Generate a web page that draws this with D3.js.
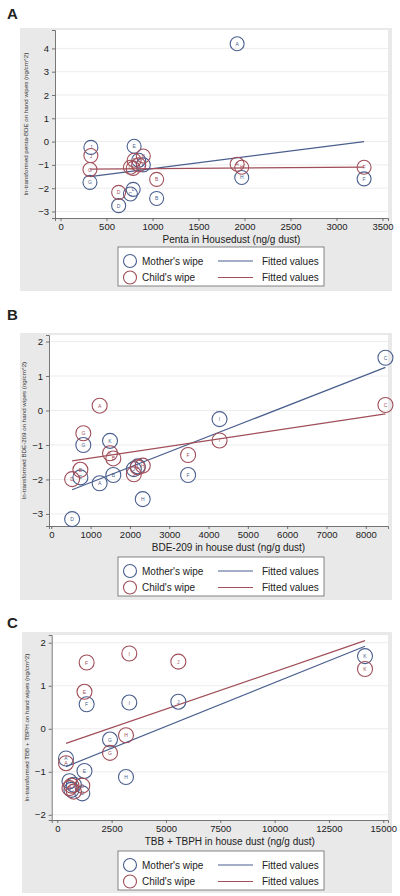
<!DOCTYPE html>
<html><head><meta charset="utf-8">
<script src="https://cdn.jsdelivr.net/npm/d3@7"></script>
<style>body{margin:0;background:#fff;}svg{display:block;font-family:"Liberation Sans",Arial,sans-serif;}</style>
</head><body><svg id="c" width="400" height="896"></svg>
<script>
// ---------- DATA ----------
const letters = ["A","B","C","D","E","F","G","H","I","J","K","L"];

// Panel A: penta-BDE
const dustA     = [1920,1045,760,632,800,3300,320,1970,850,330,900,790];
const motherA   = [4.2,-2.44,-2.25,-2.75,-0.2,-1.6,-1.75,-1.54,-0.8,-0.25,-1.0,-2.05];
const childA    = [-0.97,-1.62,-1.1,-2.18,-0.8,-1.1,-1.2,-1.1,-1.0,-0.6,-0.62,-1.15];
const fitMotherA = [[320,-1.5],[3300,0.0]];
const fitChildA  = [[320,-1.18],[3300,-1.1]];
const xTicksA = [0,500,1000,1500,2000,2500,3000,3500];
const yTicksA = [-3,-2,-1,0,1,2,3,4];

// Panel B: BDE-209
const dustB     = [1230,1578,8500,530,740,3480,815,2326,4280,2100,1494,2200];
const motherB   = [-2.11,-1.87,1.53,-3.15,-1.94,-1.87,-1.0,-2.57,-0.25,-1.7,-0.88,-1.62];
const childB    = [0.14,-1.39,0.16,-1.99,-1.72,-1.29,-0.66,-1.6,-0.87,-1.85,-1.24,-1.65];
const fitMotherB = [[530,-2.3],[8500,1.25]];
const fitChildB  = [[530,-1.46],[8500,-0.1]];
const xTicksB = [0,1000,2000,3000,4000,5000,6000,7000,8000];
const yTicksB = [-3,-2,-1,0,1,2];

// Panel C: TBB + TBPH
const dustC     = [400,560,650,1150,1250,1350,2425,3160,3313,5570,14160,760];
const motherC   = [-0.69,-1.22,-1.42,-1.5,-0.98,0.57,-0.25,-1.12,0.61,0.63,1.69,-1.3];
const childC    = [-0.8,-1.38,-1.32,-1.32,0.86,1.54,-0.56,-0.15,1.75,1.56,1.39,-1.46];
const fitMotherC = [[400,-0.88],[14160,1.92]];
const fitChildC  = [[400,-0.34],[14160,2.05]];
const xTicksC = [0,2500,5000,7500,10000,12500,15000];
const yTicksC = [-2,-1,0,1,2];

const legendLabels = ["Mother's wipe","Child's wipe","Fitted values"];

// ---------- STYLE ----------
const BLUE = "#4a5f8e", RED = "#a04e59";
const svg = d3.select("#c");

function panel(o){
  const g = svg.append("g");
  g.append("rect").attr("x",o.gx).attr("y",o.gy).attr("width",o.gw).attr("height",o.gh).attr("fill","#e9e9e9");
  g.append("rect").attr("x",o.px0).attr("y",o.py0).attr("width",o.px1-o.px0).attr("height",o.py1-o.py0).attr("fill","#fff");
  g.append("text").attr("x",7).attr("y",o.labelY).attr("font-size",15).attr("font-weight","bold").attr("fill","#222").text(o.label);

  const x = d3.scaleLinear().domain(o.xd).range([o.px0,o.px1]);
  const y = d3.scaleLinear().domain(o.yd).range([o.py1,o.py0]);

  g.append("g").selectAll("line").data(o.yt).join("line")
    .attr("x1",o.px0).attr("x2",o.px1).attr("y1",d=>y(d)).attr("y2",d=>y(d))
    .attr("stroke","#ececec").attr("stroke-width",1);

  const ax = g.append("g").attr("transform",`translate(0,${o.py1})`)
    .call(d3.axisBottom(x).tickValues(o.xt).tickSize(3).tickPadding(2).tickFormat(d3.format("d")));
  const ay = g.append("g").attr("transform",`translate(${o.px0},0)`)
    .call(d3.axisLeft(y).tickValues(o.yt).tickSize(3).tickPadding(3).tickFormat(d3.format("d")));
  [ax,ay].forEach(a=>{
    a.select(".domain").attr("stroke","#555").attr("stroke-width",0.8);
    a.selectAll(".tick line").attr("stroke","#555").attr("stroke-width",0.8);
    a.selectAll(".tick text").attr("font-size",9.5).attr("fill","#222").attr("font-family","Liberation Sans, Arial, sans-serif");
  });

  g.append("text").attr("x",(o.px0+o.px1)/2+10).attr("y",o.xtY).attr("text-anchor","middle")
    .attr("font-size",10).attr("fill","#222").text(o.xtitle);
  g.append("text").attr("transform",`translate(${o.ytX},${(o.py0+o.py1)/2}) rotate(-90)`)
    .attr("text-anchor","middle").attr("font-size",6.2).attr("fill","#333").text(o.ytitle);

  const line = d3.line().x(d=>x(d[0])).y(d=>y(d[1]));
  g.append("path").attr("d",line(o.fitM)).attr("stroke",BLUE).attr("stroke-width",1.2).attr("fill","none");
  g.append("path").attr("d",line(o.fitC)).attr("stroke",RED).attr("stroke-width",1.2).attr("fill","none");

  function pts(vals,col){
    const pg = g.append("g");
    const dat = letters.map((l,i)=>({l,x:o.dust[i],y:vals[i]}));
    pg.selectAll("circle").data(dat).join("circle")
      .attr("cx",d=>x(d.x)).attr("cy",d=>y(d.y)).attr("r",o.r)
      .attr("fill","none").attr("stroke",col).attr("stroke-width",1.1);
    pg.selectAll("text").data(dat).join("text")
      .attr("x",d=>x(d.x)).attr("y",d=>y(d.y)+2).attr("text-anchor","middle")
      .attr("font-size",5).attr("fill",col).text(d=>d.l);
  }
  pts(o.mom,BLUE);
  pts(o.child,RED);

  const L = g.append("g");
  L.append("rect").attr("x",118).attr("y",o.ly).attr("width",206).attr("height",39)
    .attr("fill","#fff").attr("stroke","#666").attr("stroke-width",0.8);
  [[BLUE,legendLabels[0]],[RED,legendLabels[1]]].forEach((r,i)=>{
    const cy = o.ly + 14 + i*16.5;
    L.append("circle").attr("cx",130).attr("cy",cy).attr("r",6.5).attr("fill","none").attr("stroke",r[0]).attr("stroke-width",1.1);
    L.append("text").attr("x",142).attr("y",cy+3.5).attr("font-size",10).attr("fill","#222").text(r[1]);
    L.append("line").attr("x1",218).attr("x2",253).attr("y1",cy).attr("y2",cy).attr("stroke",r[0]).attr("stroke-width",1.2);
    L.append("text").attr("x",262).attr("y",cy+3.5).attr("font-size",10).attr("fill","#222").text(legendLabels[2]);
  });
}

panel({label:"A",labelY:19,gx:20,gy:28,gw:372,gh:263,px0:55,px1:388,py0:30,py1:218,
  xd:[-60,3560],yd:[-3.28,4.79],xt:xTicksA,yt:yTicksA,dust:dustA,mom:motherA,child:childA,
  fitM:fitMotherA,fitC:fitChildA,r:7,xtY:243,ytX:28,ly:247,
  xtitle:"Penta in Housedust (ng/g dust)",ytitle:"ln-transformed penta-BDE on hand wipes (ng/cm^2)"});

panel({label:"B",labelY:320,gx:20,gy:333,gw:372,gh:267,px0:49,px1:388,py0:335,py1:526,
  xd:[-58,8565],yd:[-3.35,2.19],xt:xTicksB,yt:yTicksB,dust:dustB,mom:motherB,child:childB,
  fitM:fitMotherB,fitC:fitChildB,r:7.5,xtY:551,ytX:26,ly:557,
  xtitle:"BDE-209 in house dust (ng/g dust)",ytitle:"ln-transformed BDE-209 on hand wipes (ng/cm^2)"});

panel({label:"C",labelY:628,gx:22,gy:632,gw:370,gh:261,px0:51.7,px1:388,py0:635,py1:820,
  xd:[-258,15218],yd:[-2.12,2.18],xt:xTicksC,yt:yTicksC,dust:dustC,mom:motherC,child:childC,
  fitM:fitMotherC,fitC:fitChildC,r:7.5,xtY:845,ytX:29,ly:851,
  xtitle:"TBB + TBPH in house dust (ng/g dust)",ytitle:"ln-transformed TBB + TBPH on hand wipes (ng/cm^2)"});
</script></body></html>
